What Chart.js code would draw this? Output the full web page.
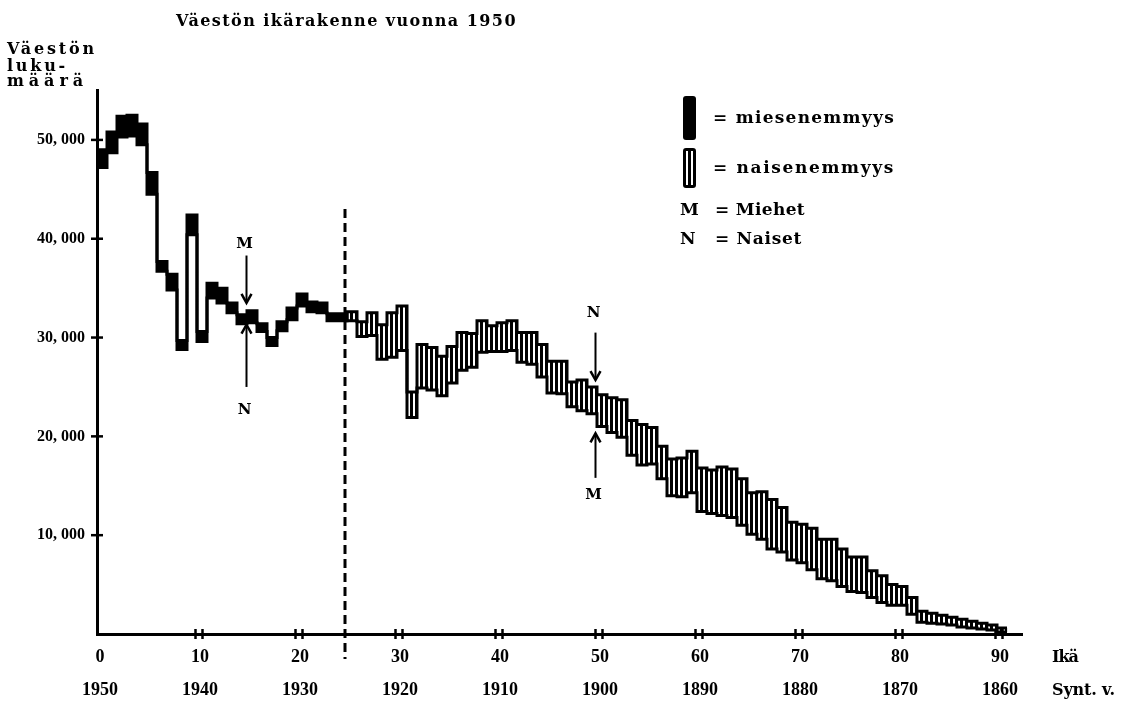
<!DOCTYPE html>
<html>
<head>
<meta charset="utf-8">
<script src="https://cdn.jsdelivr.net/npm/chart.js@4.4.0/dist/chart.umd.min.js"></script>
<style>
  body { margin: 0; background: #fff; }
  #wrap { position: relative; width: 1139px; height: 707px; color: #000;
          font-family: "DejaVu Serif", serif; font-weight: bold; }
  #wrap canvas { position: absolute; left: 0; top: 0; }
  .t { position: absolute; white-space: nowrap; line-height: 1; }
  .sw { position: absolute; box-sizing: border-box; border-radius: 3px; }
  #swM { left: 683px; top: 96px; width: 13px; height: 44px; background: #000; }
  #swN { left: 683px; top: 148px; width: 13px; height: 40px; border: 3px solid #000;
         background: linear-gradient(to right, #fff 0 35%, #000 35% 65%, #fff 65% 100%); }
</style>
</head>
<body>
<div id="wrap">
  <canvas id="c" width="1139" height="707"></canvas>
  <div class="t" style="left:176px;top:13px;font-size:16px" data-w="341">Väestön ikärakenne vuonna 1950</div>
  <div class="t" style="left:7px;top:41px;font-size:16px" data-w="90">Väestön</div>
  <div class="t" style="left:7px;top:58px;font-size:16px" data-w="61">luku-</div>
  <div class="t" style="left:7px;top:73px;font-size:16px" data-w="81">määrä</div>
  <div class="sw" id="swM"></div>
  <div class="sw" id="swN"></div>
  <div class="t" style="left:713px;top:109px;font-size:17px" data-w="182">= miesenemmyys</div>
  <div class="t" style="left:713px;top:159px;font-size:17px" data-w="182">= naisenemmyys</div>
  <div class="t" style="left:680px;top:201px;font-size:17px">M</div>
  <div class="t" style="left:715px;top:201px;font-size:17px" data-w="90">= Miehet</div>
  <div class="t" style="left:680px;top:230px;font-size:17px">N</div>
  <div class="t" style="left:715px;top:230px;font-size:17px" data-w="87">= Naiset</div>
  <div class="t" style="left:1052px;top:649px;font-size:16px" data-w="26">Ikä</div>
  <div class="t" style="left:1052px;top:682px;font-size:16px" data-w="63">Synt. v.</div>
</div>
<script>
// Väestö iän mukaan 1950 (luettu kuvasta)
const ages = [0, 1, 2, 3, 4, 5, 6, 7, 8, 9, 10, 11, 12, 13, 14, 15, 16, 17, 18, 19,
  20, 21, 22, 23, 24, 25, 26, 27, 28, 29, 30, 31, 32, 33, 34, 35, 36, 37, 38, 39,
  40, 41, 42, 43, 44, 45, 46, 47, 48, 49, 50, 51, 52, 53, 54, 55, 56, 57, 58, 59,
  60, 61, 62, 63, 64, 65, 66, 67, 68, 69, 70, 71, 72, 73, 74, 75, 76, 77, 78, 79,
  80, 81, 82, 83, 84, 85, 86, 87, 88, 89, 90]

const men = [
  49000, 50800, 52400, 52500, 51600, 46700, 37700, 36400, 29700, 42400,
  30600, 35500, 35000, 33500, 32300, 32700, 31400, 30000, 31600, 33000,
  34400, 33600, 33500, 32400, 32400, 31700, 30100, 30200, 27800, 28000,
  28700, 21900, 24900, 24700, 24100, 25400, 26700, 27000, 28500, 28600,
  28600, 28700, 27500, 27300, 26000, 24400, 24300, 23000, 22600, 22300,
  21000, 20400, 19900, 18100, 17100, 17200, 15700, 14000, 13900, 14300,
  12400, 12200, 12000, 11800, 11000, 10100, 9600, 8600, 8300, 7500,
  7200, 6500, 5600, 5400, 4800, 4300, 4200, 3700, 3200, 2900,
  2900, 2000, 1200, 1100, 1000, 900, 700, 600, 500, 400,
  200]

const women = [
  47200, 48700, 50300, 50400, 49500, 44500, 36700, 34800, 28800, 40400,
  29600, 34000, 33500, 32500, 31400, 31500, 30600, 29200, 30700, 31800,
  33200, 32600, 32500, 31700, 31700, 32600, 31600, 32500, 31300, 32500,
  33200, 24500, 29300, 29000, 28100, 29100, 30500, 30400, 31700, 31200,
  31500, 31700, 30500, 30500, 29300, 27600, 27600, 25500, 25700, 25000,
  24200, 23900, 23700, 21600, 21200, 20900, 19000, 17700, 17800, 18500,
  16800, 16600, 16900, 16700, 15700, 14300, 14400, 13600, 12800, 11300,
  11100, 10700, 9600, 9600, 8600, 7800, 7800, 6400, 5900, 5000,
  4800, 3700, 2300, 2100, 1900, 1700, 1500, 1300, 1100, 900,
  600]

const ageTicks = [0, 10, 20, 30, 40, 50, 60, 70, 80, 90]
const birthYears = [1950, 1940, 1930, 1920, 1910, 1900, 1890, 1880, 1870, 1860]
const valueTicks = [10000, 20000, 30000, 40000, 50000]

// nuolet ja katkoviiva (arvoasteikolla)
const arrows = [
  { text: 'M', age: 14.95, textAt: 39500, from: 38300, to: 33500 },
  { text: 'N', age: 14.95, textAt: 22700, from: 25000, to: 31300 },
  { text: 'N', age: 49.85, textAt: 32500, from: 30500, to: 25700 },
  { text: 'M', age: 49.85, textAt: 14100, from: 15800, to: 20300 }
]
const dividerAge = 24.8
const dividerTop = 43000

// letter spacing for the typewriter-looking texts
document.querySelectorAll('[data-w]').forEach(el => {
  const w0 = el.getBoundingClientRect().width
  el.style.letterSpacing = ((+el.dataset.w - w0) / el.textContent.length) + 'px'
})

function makeHatch() {
  const c = document.createElement('canvas')
  c.width = 5; c.height = 4
  const g = c.getContext('2d')
  g.fillStyle = '#fff'; g.fillRect(0, 0, 5, 4)
  g.fillStyle = '#000'; g.fillRect(0, 0, 3, 4)
  return g.createPattern(c, 'repeat')
}
const hatch = makeHatch()

const last = ages.length - 1
const menSteps = ages.map((a, i) => ({ x: a, y: men[i] })).concat([{ x: ages[last] + 1, y: men[last] }])
const womenSteps = ages.map((a, i) => ({ x: a, y: women[i] })).concat([{ x: ages[last] + 1, y: women[last] }])
const bands = ages.map((a, i) => ({ x: a + 0.5, y: [Math.min(men[i], women[i]), Math.max(men[i], women[i])] }))
const bandColors = ages.map((a, i) => men[i] >= women[i] ? '#000' : hatch)

const fmt = v => (v / 1000) + ', 000'

const extras = {
  id: 'extras',
  afterDatasetsDraw(chart) {
    const { ctx, scales: { x, y } } = chart
    ctx.save()
    ctx.strokeStyle = '#000'
    ctx.fillStyle = '#000'
    ctx.lineWidth = 2.5
    valueTicks.forEach(v => {
      const py = y.getPixelForValue(v)
      ctx.beginPath(); ctx.moveTo(x.left - 6, py); ctx.lineTo(x.left + 6, py); ctx.stroke()
    })
    ageTicks.slice(1).forEach(a => {
      const px = x.getPixelForValue(a) + 2
      ;[-3.5, 3.5].forEach(d => {
        ctx.beginPath(); ctx.moveTo(px + d, y.bottom - 5); ctx.lineTo(px + d, y.bottom + 5); ctx.stroke()
      })
    })

    // katkoviiva
    const dx = x.getPixelForValue(dividerAge)
    ctx.lineWidth = 3
    ctx.setLineDash([9, 5])
    ctx.beginPath(); ctx.moveTo(dx, y.getPixelForValue(dividerTop)); ctx.lineTo(dx, y.bottom + 25); ctx.stroke()
    ctx.setLineDash([])

    // nuolet
    ctx.font = 'bold 15px "DejaVu Serif"'
    ctx.textAlign = 'center'
    ctx.textBaseline = 'middle'
    arrows.forEach(a => {
      const px = x.getPixelForValue(a.age)
      const y0 = y.getPixelForValue(a.from)
      const y1 = y.getPixelForValue(a.to)
      const dir = Math.sign(y1 - y0)
      ctx.lineWidth = 2
      ctx.beginPath(); ctx.moveTo(px, y0); ctx.lineTo(px, y1 - dir * 2); ctx.stroke()
      ctx.lineWidth = 2.5
      ctx.beginPath(); ctx.moveTo(px - 5, y1 - dir * 9); ctx.lineTo(px, y1); ctx.lineTo(px + 5, y1 - dir * 9); ctx.stroke()
      ctx.fillText(a.text, px - 2, y.getPixelForValue(a.textAt))
    })
    ctx.restore()
  }
}

new Chart(document.getElementById('c'), {
  type: 'bar',
  data: {
    datasets: [
      { type: 'line', label: 'Miehet', data: menSteps, stepped: true, borderColor: '#000',
        borderWidth: 3, pointRadius: 0, fill: false, order: 0 },
      { type: 'line', label: 'Naiset', data: womenSteps, stepped: true, borderColor: '#000',
        borderWidth: 3, pointRadius: 0, fill: false, order: 0 },
      { type: 'bar', label: 'Ero', data: bands, backgroundColor: bandColors, borderColor: '#000',
        borderWidth: { left: 1, right: 1, top: 0, bottom: 0 }, borderSkipped: false,
        barPercentage: 1, categoryPercentage: 1, order: 1 }
    ]
  },
  options: {
    responsive: false,
    animation: false,
    layout: { padding: { top: 90.5, right: 117, left: 0, bottom: 0 } },
    plugins: { legend: { display: false }, tooltip: { enabled: false } },
    scales: {
      x: {
        type: 'linear', min: 0, max: 92.5, offset: false,
        grid: { display: false, drawTicks: false },
        border: { display: true, width: 3, color: '#000' },
        afterBuildTicks: s => { s.ticks = ageTicks.map(v => ({ value: v })) },
        ticks: {
          autoSkip: false, maxRotation: 0, padding: 7, labelOffset: 3, color: '#000',
          font: { family: 'Liberation Serif', weight: 'bold', size: 18, lineHeight: '33px' },
          callback: v => {
            const i = ageTicks.indexOf(v)
            return i < 0 ? '' : [String(v), String(birthYears[i])]
          }
        },
        afterFit: s => { s.height = 73 }
      },
      y: {
        type: 'linear', min: 0, max: 55000,
        grid: { display: false, drawTicks: false },
        border: { display: true, width: 3, color: '#000' },
        afterBuildTicks: s => { s.ticks = valueTicks.map(v => ({ value: v })) },
        ticks: {
          autoSkip: false, padding: 12, color: '#000',
          font: { family: 'Liberation Serif', weight: 'bold', size: 16 },
          callback: v => fmt(v)
        },
        afterFit: s => { s.width = 97 }
      }
    }
  },
  plugins: [extras]
})
</script>
</body>
</html>
